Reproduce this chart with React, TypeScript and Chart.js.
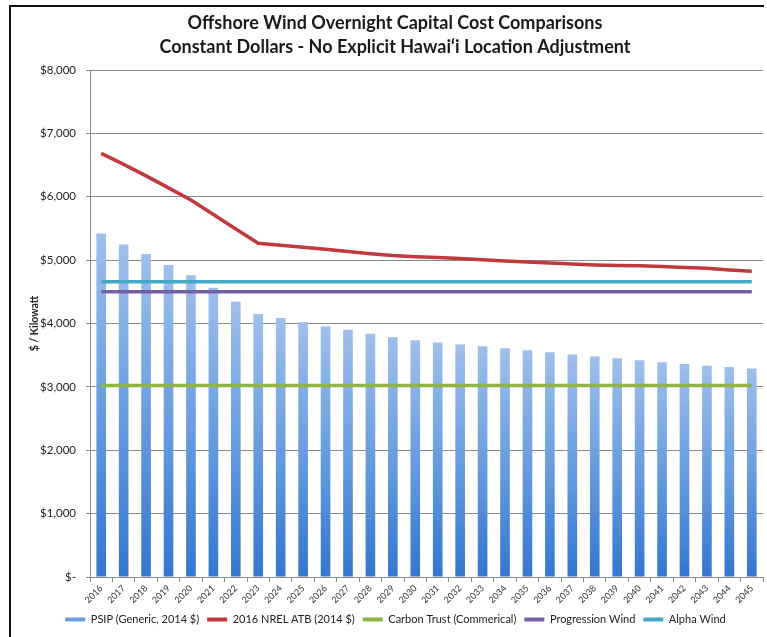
import React, { useEffect, useRef } from "react";
import { Chart, registerables } from "chart.js";

Chart.register(...registerables);

const titleLines = [
  "Offshore Wind Overnight Capital Cost Comparisons",
  "Constant Dollars - No Explicit Hawai\u2018i Location Adjustment",
];

const years = [
  "2016", "2017", "2018", "2019", "2020", "2021", "2022", "2023", "2024", "2025",
  "2026", "2027", "2028", "2029", "2030", "2031", "2032", "2033", "2034", "2035",
  "2036", "2037", "2038", "2039", "2040", "2041", "2042", "2043", "2044", "2045",
];

const psip = [
  5420, 5245, 5095, 4925, 4760, 4565, 4345, 4150, 4085, 4020,
  3955, 3900, 3840, 3785, 3735, 3700, 3670, 3640, 3608, 3576,
  3548, 3512, 3481, 3450, 3422, 3390, 3362, 3335, 3312, 3288,
];

const nrel = [
  6685, 6510, 6330, 6140, 5950, 5720, 5490, 5265, 5235, 5205,
  5170, 5135, 5100, 5072, 5055, 5040, 5025, 5005, 4985, 4970,
  4955, 4940, 4925, 4915, 4910, 4900, 4885, 4870, 4845, 4825,
];

const carbonTrust = [
  3020, 3020, 3020, 3020, 3020, 3020, 3020, 3020, 3020, 3020,
  3020, 3020, 3020, 3020, 3020, 3020, 3020, 3020, 3020, 3020,
  3020, 3020, 3020, 3020, 3020, 3020, 3020, 3020, 3020, 3020,
];

const progressionWind = [
  4500, 4500, 4500, 4500, 4500, 4500, 4500, 4500, 4500, 4500,
  4500, 4500, 4500, 4500, 4500, 4500, 4500, 4500, 4500, 4500,
  4500, 4500, 4500, 4500, 4500, 4500, 4500, 4500, 4500, 4500,
];

const alphaWind = [
  4660, 4660, 4660, 4660, 4660, 4660, 4660, 4660, 4660, 4660,
  4660, 4660, 4660, 4660, 4660, 4660, 4660, 4660, 4660, 4660,
  4660, 4660, 4660, 4660, 4660, 4660, 4660, 4660, 4660, 4660,
];

const seriesLabels = [
  "PSIP (Generic, 2014 $)",
  "2016 NREL ATB (2014 $)",
  "Carbon Trust (Commerical)",
  "Progression Wind",
  "Alpha Wind",
];

const yTitle = "$ / Kilowatt";

const FONT = "Lato, 'Open Sans', sans-serif";
const BAR_LEGEND = "#6b9ddd";
const RED = "#c0393d";
const GREEN = "#8fb443";
const PURPLE = "#7560a5";
const TEAL = "#45a8c4";

function barFill(ctx: any) {
  const chart = ctx.chart;
  const { chartArea, scales } = chart;
  if (!chartArea || ctx.type !== "data" || !scales.y) return BAR_LEGEND;
  const v = ctx.raw as number;
  const yTop = scales.y.getPixelForValue(v);
  const yBot = scales.y.getPixelForValue(0);
  const g = chart.ctx.createLinearGradient(0, yTop, 0, yBot);
  g.addColorStop(0, "#9ec0eb");
  g.addColorStop(0.5, "#699ddf");
  g.addColorStop(1, "#3576cf");
  return g;
}

const titlePlugin = {
  id: "twoLineTitle",
  afterDraw(chart: any) {
    const c = chart.ctx;
    c.save();
    c.font = `bold 18px ${FONT}`;
    c.fillStyle = "#1a1a1a";
    c.textAlign = "center";
    c.textBaseline = "middle";
    c.fillText(titleLines[0], 395, 23);
    c.fillText(titleLines[1], 395, 47);
    c.restore();
  },
};

export default function App() {
  const canvasRef = useRef<HTMLCanvasElement | null>(null);

  useEffect(() => {
    if (!canvasRef.current) return;
    const colors = [BAR_LEGEND, RED, GREEN, PURPLE, TEAL];
    const lineDs = (label: string, data: number[], color: string, order: number) => ({
      type: "line" as const,
      label,
      data,
      borderColor: color,
      backgroundColor: color,
      borderWidth: 3.5,
      pointRadius: 0,
      pointHoverRadius: 0,
      tension: 0,
      fill: false,
      order,
    });
    const chart = new Chart(canvasRef.current, {
      type: "bar",
      data: {
        labels: years,
        datasets: [
          {
            type: "bar" as const,
            label: seriesLabels[0],
            data: psip,
            backgroundColor: barFill as any,
            borderWidth: 0,
            barPercentage: 0.43,
            categoryPercentage: 1,
            order: 10,
          },
          lineDs(seriesLabels[1], nrel, RED, 1),
          lineDs(seriesLabels[2], carbonTrust, GREEN, 2),
          lineDs(seriesLabels[3], progressionWind, PURPLE, 3),
          lineDs(seriesLabels[4], alphaWind, TEAL, 4),
        ] as any,
      },
      options: {
        responsive: false,
        animation: false,
        layout: { padding: { top: 70, left: 28, right: 4, bottom: 2 } },
        plugins: {
          title: { display: false },
          tooltip: { enabled: false },
          legend: {
            display: true,
            position: "bottom",
            labels: {
              boxWidth: 20,
              boxHeight: 4,
              padding: 8,
              color: "#222",
              font: { family: FONT, size: 11 },
              generateLabels: (ch: any) =>
                ch.data.datasets.map((ds: any, i: number) => ({
                  text: ds.label,
                  fillStyle: colors[i],
                  strokeStyle: colors[i],
                  lineWidth: 0,
                  hidden: false,
                  datasetIndex: i,
                  fontColor: "#222",
                })),
            },
          },
        },
        scales: {
          x: {
            grid: {
              display: true,
              drawOnChartArea: false,
              drawTicks: true,
              tickLength: 5,
              color: "#8a8a8a",
              offset: true,
            },
            border: { display: true, color: "#8a8a8a", width: 1 },
            ticks: {
              autoSkip: false,
              minRotation: 45,
              maxRotation: 45,
              padding: 1,
              color: "#333",
              font: { family: FONT, size: 9 },
            },
            afterFit: (s: any) => {
              s.height = 29;
            },
          },
          y: {
            min: 0,
            max: 8000,
            ticks: {
              stepSize: 1000,
              padding: 10,
              color: "#222",
              font: { family: FONT, size: 11.5 },
              callback: (v: any) =>
                Number(v) === 0 ? "$-" : "$" + Number(v).toLocaleString("en-US"),
            },
            grid: { color: "#8a8a8a", tickLength: 4, drawTicks: true },
            border: { display: true, color: "#8a8a8a", width: 1 },
            title: {
              display: true,
              text: yTitle,
              color: "#222",
              font: { family: FONT, size: 10.5, weight: "bold" },
              padding: { top: 0, bottom: 0 },
            },
            afterFit: (s: any) => {
              s.width = 62;
            },
          },
        },
      } as any,
      plugins: [titlePlugin],
    });
    return () => chart.destroy();
  }, []);

  return (
    <div
      style={{
        position: "absolute",
        left: 0,
        top: 0,
        width: 767,
        height: 637,
        background: "#fff",
        overflow: "hidden",
      }}
    >
      <div
        style={{
          position: "absolute",
          left: 9,
          top: 5,
          width: 753,
          height: 700,
          borderLeft: "2px solid #111",
          borderTop: "2px solid #111",
        }}
      />
      <canvas
        ref={canvasRef}
        width={767}
        height={637}
        style={{ position: "absolute", left: 0, top: 0, width: 767, height: 637 }}
      />
    </div>
  );
}
